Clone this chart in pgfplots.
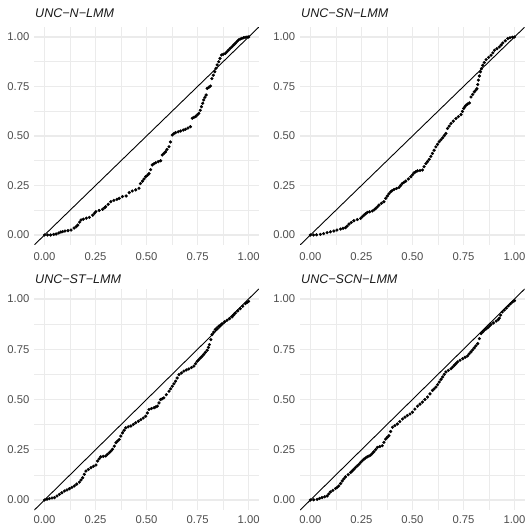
\documentclass[border=0pt]{standalone}
\usepackage{pgfplots}
\pgfplotsset{compat=1.18}
\usepackage{fontspec}
\setmainfont{Liberation Sans}
\definecolor{gridc}{HTML}{EBEBEB}
\definecolor{ticktext}{HTML}{4D4D4D}
\definecolor{striptext}{HTML}{1A1A1A}
\pgfplotsset{qq/.style={
  scale only axis, width=224.5bp,
  xmin=-0.05, xmax=1.05, ymin=-0.05, ymax=1.05,
  axis line style={draw=none},
  xtick={0,0.25,0.5,0.75,1}, ytick={0,0.25,0.5,0.75,1},
  xticklabels={0.00,0.25,0.50,0.75,1.00},
  yticklabels={0.00,0.25,0.50,0.75,1.00},
  minor xtick={0.125,0.375,0.625,0.875},
  minor ytick={0.125,0.375,0.625,0.875},
  grid=both,
  major grid style={draw=gridc, line width=1.1bp},
  minor grid style={draw=gridc, line width=0.6bp},
  major tick length=0pt, minor tick length=0pt,
  tick style={draw=none},
  ticklabel style={font=\fontsize{11.3}{13}\selectfont, text=ticktext, inner sep=0pt},
  xticklabel style={anchor=north, yshift=-7.8bp},
  yticklabel style={anchor=east, xshift=-4.8bp},
  anchor=south west,
}}
\newcommand{\striptitle}[3]{\node[anchor=base west, inner sep=0pt, font=\fontsize{12.6}{14}\selectfont\itshape, text=striptext] at (#1,#2) {#3};}
\begin{document}
\begin{tikzpicture}
\useasboundingbox (0,0) rectangle (529bp,526bp);
% ---------- Panel 1 ----------
\begin{axis}[qq, height=217.8bp, at={(34.3bp,281.1bp)}]
\addplot[black, line width=0.9bp] coordinates {(-0.05,-0.05) (1.05,1.05)};
\addplot[only marks, mark=*, mark size=1.4bp, black] coordinates {
(0,0) (0.015,0.0) (0.03,0.0) (0.045,0.003) (0.057,0.005) (0.07,0.01) (0.08,0.015) (0.089,0.017) (0.1,0.02) (0.115,0.022) (0.13,0.025) (0.145,0.035) (0.155,0.042) (0.163,0.05) (0.172,0.065) (0.179,0.076) (0.19,0.08) (0.205,0.085) (0.22,0.089) (0.236,0.10) (0.245,0.11) (0.252,0.118) (0.268,0.124) (0.285,0.13) (0.295,0.138) (0.30,0.143) (0.312,0.155) (0.325,0.168) (0.34,0.175) (0.355,0.18) (0.366,0.185) (0.382,0.194) (0.40,0.197) (0.415,0.214) (0.43,0.222) (0.447,0.228) (0.463,0.236) (0.47,0.26) (0.48,0.272) (0.488,0.283) (0.496,0.295) (0.505,0.302) (0.512,0.31) (0.52,0.33) (0.528,0.354) (0.537,0.36) (0.545,0.365) (0.557,0.37) (0.569,0.375) (0.577,0.404) (0.585,0.412) (0.593,0.42) (0.60,0.432) (0.61,0.446) (0.617,0.47) (0.626,0.505) (0.634,0.512) (0.642,0.517) (0.655,0.521) (0.667,0.525) (0.68,0.53) (0.691,0.534) (0.703,0.54) (0.715,0.547) (0.724,0.59) (0.732,0.594) (0.74,0.598) (0.748,0.606) (0.756,0.614) (0.763,0.63) (0.769,0.648) (0.775,0.665) (0.78,0.682) (0.786,0.695) (0.792,0.707) (0.797,0.74) (0.805,0.746) (0.813,0.752) (0.82,0.79) (0.827,0.807) (0.834,0.825) (0.84,0.842) (0.846,0.859) (0.854,0.875) (0.86,0.892) (0.867,0.909) (0.876,0.913) (0.886,0.917) (0.894,0.925) (0.902,0.934) (0.91,0.943) (0.919,0.951) (0.927,0.96) (0.935,0.968) (0.943,0.977) (0.951,0.985) (0.959,0.99) (0.967,0.993) (0.975,0.996) (0.983,0.998) (0.992,1.0) (1.0,1.0)
};
\end{axis}
\striptitle{35bp}{508.3bp}{UNC−N−LMM}
% ---------- Panel 2 ----------
\begin{axis}[qq, height=217.8bp, at={(300.2bp,281.1bp)}]
\addplot[black, line width=0.9bp] coordinates {(-0.05,-0.05) (1.05,1.05)};
\addplot[only marks, mark=*, mark size=1.4bp, black] coordinates {
(0,0) (0.015,0.0) (0.03,0.001) (0.049,0.003) (0.065,0.007) (0.082,0.012) (0.098,0.016) (0.115,0.02) (0.13,0.025) (0.148,0.03) (0.16,0.034) (0.172,0.037) (0.18,0.045) (0.189,0.055) (0.2,0.063) (0.213,0.072) (0.23,0.078) (0.246,0.084) (0.254,0.092) (0.262,0.10) (0.27,0.107) (0.279,0.114) (0.29,0.117) (0.303,0.121) (0.312,0.127) (0.32,0.134) (0.328,0.142) (0.336,0.151) (0.348,0.16) (0.36,0.168) (0.369,0.185) (0.377,0.197) (0.385,0.208) (0.393,0.218) (0.40,0.224) (0.41,0.23) (0.422,0.235) (0.434,0.24) (0.442,0.25) (0.45,0.26) (0.458,0.266) (0.467,0.272) (0.48,0.283) (0.492,0.294) (0.50,0.304) (0.508,0.314) (0.516,0.319) (0.525,0.324) (0.537,0.326) (0.549,0.328) (0.557,0.345) (0.566,0.361) (0.574,0.371) (0.582,0.382) (0.59,0.397) (0.598,0.412) (0.606,0.428) (0.615,0.445) (0.623,0.458) (0.631,0.471) (0.64,0.481) (0.648,0.491) (0.656,0.502) (0.664,0.513) (0.672,0.538) (0.68,0.55) (0.689,0.563) (0.70,0.575) (0.713,0.588) (0.725,0.598) (0.738,0.608) (0.745,0.624) (0.751,0.639) (0.757,0.647) (0.762,0.655) (0.77,0.661) (0.779,0.667) (0.787,0.697) (0.795,0.71) (0.803,0.723) (0.81,0.731) (0.816,0.739) (0.82,0.76) (0.823,0.782) (0.828,0.803) (0.833,0.824) (0.838,0.84) (0.844,0.857) (0.852,0.871) (0.861,0.886) (0.873,0.897) (0.885,0.908) (0.894,0.92) (0.902,0.933) (0.914,0.941) (0.926,0.95) (0.935,0.96) (0.943,0.97) (0.955,0.981) (0.967,0.992) (0.978,0.996) (0.99,0.999) (1.0,1.0)
};
\end{axis}
\striptitle{301bp}{508.3bp}{UNC−SN−LMM}
% ---------- Panel 3 ----------
\begin{axis}[qq, height=221.1bp, at={(34.3bp,15.95bp)}, xticklabel style={yshift=2.6bp}]
\addplot[black, line width=0.9bp] coordinates {(-0.05,-0.05) (1.05,1.05)};
\addplot[only marks, mark=*, mark size=1.4bp, black] coordinates {
(0,0) (0.012,0.004) (0.024,0.007) (0.037,0.01) (0.049,0.012) (0.061,0.02) (0.073,0.028) (0.085,0.036) (0.098,0.045) (0.11,0.05) (0.122,0.056) (0.134,0.063) (0.146,0.07) (0.158,0.079) (0.171,0.089) (0.179,0.1) (0.187,0.111) (0.195,0.128) (0.203,0.144) (0.215,0.152) (0.228,0.161) (0.24,0.168) (0.252,0.174) (0.26,0.194) (0.268,0.205) (0.276,0.215) (0.288,0.217) (0.30,0.219) (0.308,0.227) (0.317,0.235) (0.325,0.243) (0.333,0.252) (0.342,0.268) (0.35,0.285) (0.358,0.293) (0.366,0.301) (0.374,0.318) (0.382,0.334) (0.39,0.347) (0.398,0.359) (0.41,0.364) (0.423,0.368) (0.435,0.376) (0.447,0.384) (0.46,0.392) (0.472,0.40) (0.484,0.408) (0.496,0.417) (0.504,0.433) (0.512,0.45) (0.524,0.455) (0.537,0.459) (0.545,0.463) (0.553,0.467) (0.561,0.483) (0.569,0.50) (0.577,0.504) (0.585,0.508) (0.597,0.524) (0.61,0.541) (0.618,0.553) (0.626,0.566) (0.634,0.578) (0.642,0.591) (0.65,0.607) (0.659,0.624) (0.671,0.632) (0.683,0.641) (0.695,0.647) (0.707,0.652) (0.72,0.659) (0.732,0.666) (0.74,0.678) (0.748,0.69) (0.756,0.698) (0.764,0.707) (0.772,0.715) (0.78,0.724) (0.788,0.734) (0.797,0.745) (0.803,0.759) (0.808,0.773) (0.815,0.798) (0.821,0.823) (0.829,0.835) (0.837,0.848) (0.845,0.856) (0.854,0.864) (0.862,0.87) (0.87,0.877) (0.882,0.886) (0.894,0.894) (0.906,0.902) (0.919,0.911) (0.927,0.92) (0.935,0.93) (0.947,0.941) (0.959,0.952) (0.971,0.964) (0.984,0.977) (0.992,0.983) (1.0,0.988)
};
\end{axis}
\striptitle{35bp}{242bp}{UNC−ST−LMM}
% ---------- Panel 4 ----------
\begin{axis}[qq, height=221.1bp, at={(300.2bp,15.95bp)}, xticklabel style={yshift=2.6bp}]
\addplot[black, line width=0.9bp] coordinates {(-0.05,-0.05) (1.05,1.05)};
\addplot[only marks, mark=*, mark size=1.4bp, black] coordinates {
(0,0) (0.016,0.001) (0.033,0.003) (0.045,0.008) (0.057,0.012) (0.07,0.016) (0.082,0.02) (0.09,0.03) (0.098,0.04) (0.11,0.048) (0.123,0.057) (0.131,0.063) (0.139,0.07) (0.148,0.082) (0.156,0.095) (0.164,0.105) (0.172,0.115) (0.185,0.126) (0.197,0.137) (0.205,0.145) (0.213,0.153) (0.221,0.162) (0.23,0.17) (0.238,0.178) (0.246,0.187) (0.254,0.195) (0.262,0.203) (0.27,0.209) (0.279,0.215) (0.287,0.219) (0.295,0.223) (0.303,0.231) (0.311,0.24) (0.32,0.251) (0.328,0.262) (0.34,0.266) (0.352,0.27) (0.36,0.287) (0.369,0.303) (0.377,0.312) (0.385,0.32) (0.393,0.341) (0.402,0.362) (0.414,0.37) (0.426,0.378) (0.438,0.39) (0.451,0.403) (0.463,0.412) (0.475,0.42) (0.488,0.428) (0.5,0.437) (0.512,0.452) (0.525,0.467) (0.537,0.477) (0.549,0.487) (0.561,0.5) (0.574,0.512) (0.586,0.528) (0.598,0.545) (0.606,0.553) (0.615,0.562) (0.623,0.574) (0.631,0.587) (0.64,0.6) (0.648,0.612) (0.656,0.625) (0.664,0.637) (0.676,0.645) (0.689,0.653) (0.697,0.661) (0.705,0.67) (0.713,0.678) (0.721,0.687) (0.733,0.695) (0.746,0.703) (0.758,0.71) (0.77,0.717) (0.778,0.727) (0.787,0.737) (0.795,0.747) (0.803,0.757) (0.811,0.767) (0.82,0.778) (0.828,0.803) (0.836,0.828) (0.844,0.836) (0.852,0.845) (0.86,0.851) (0.869,0.857) (0.877,0.865) (0.885,0.873) (0.897,0.881) (0.91,0.89) (0.92,0.897) (0.926,0.905) (0.932,0.92) (0.94,0.935) (0.95,0.945) (0.96,0.955) (0.97,0.966) (0.98,0.976) (0.99,0.985) (1.0,0.992)
};
\end{axis}
\striptitle{301bp}{242bp}{UNC−SCN−LMM}
\end{tikzpicture}
\end{document}
